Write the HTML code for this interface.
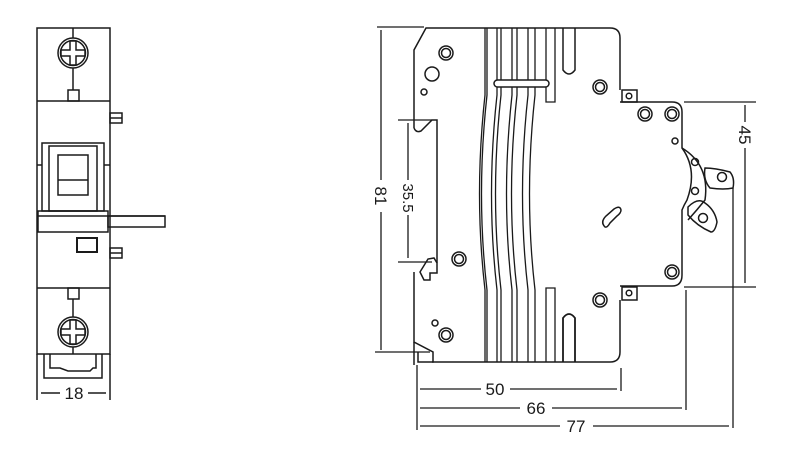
<!DOCTYPE html>
<html><head><meta charset="utf-8"><style>html,body{margin:0;padding:0;background:#fff}svg{display:block}</style></head>
<body>
<svg width="800" height="468" viewBox="0 0 800 468" xmlns="http://www.w3.org/2000/svg" fill="none" stroke="#1a1a1a" stroke-width="1.5" font-family="Liberation Sans, sans-serif">
<!-- LEFT VIEW -->
<rect x="37" y="28" width="73" height="326"/>
<line x1="37" y1="101" x2="110" y2="101"/>
<line x1="37" y1="288" x2="110" y2="288"/>
<line x1="73" y1="28" x2="73" y2="38"/><line x1="73" y1="68" x2="73" y2="90"/>
<circle cx="73" cy="53" r="15"/><circle cx="73" cy="53" r="12.5"/>
<path d="M70,41h6v9h9v6h-9v9h-6v-9h-9v-6h9z"/>
<rect x="68" y="90" width="11" height="11"/>
<rect x="110" y="113" width="12" height="10"/><line x1="110" y1="118" x2="122" y2="118"/>
<rect x="110" y="248" width="12" height="10"/><line x1="110" y1="253" x2="122" y2="253"/>
<rect x="42" y="143" width="62" height="68"/>
<rect x="49" y="146" width="48" height="65"/>
<rect x="58" y="155" width="30" height="40"/>
<line x1="58" y1="180" x2="88" y2="180"/>
<line x1="37" y1="165" x2="42" y2="165"/><line x1="104" y1="165" x2="110" y2="165"/>
<rect x="38" y="211" width="70" height="21"/>
<line x1="38" y1="216" x2="165" y2="216"/>
<rect x="108" y="216" width="57" height="11"/>
<rect x="77" y="238" width="20" height="14" stroke-width="2"/>
<rect x="68" y="288" width="11" height="11"/>
<line x1="73" y1="299" x2="73" y2="317"/><line x1="73" y1="347" x2="73" y2="354"/>
<circle cx="73" cy="332" r="15"/><circle cx="73" cy="332" r="12.5"/>
<path d="M70,320h6v9h9v6h-9v9h-6v-9h-9v-6h9z"/>
<path d="M44,354v24h58v-24"/>
<path d="M50,354v14h10l8,3h22l3,-3h3v-14"/>
<line x1="37" y1="354" x2="37" y2="400"/><line x1="110" y1="354" x2="110" y2="400"/>
<line x1="41" y1="393" x2="60" y2="393"/><line x1="88" y1="393" x2="106" y2="393"/>
<text x="74" y="399" font-size="17" fill="#1a1a1a" stroke="none" text-anchor="middle">18</text>

<!-- RIGHT VIEW body -->
<path d="M414,128 V50 L426,28 H610 Q620,28 620,38 V90"/>
<rect x="622" y="90" width="15" height="12"/><circle cx="629" cy="96" r="2.8"/>
<path d="M620,102 H672 Q682,102 682,112 V148 Q698,170 687,200 Q684,205 682,210 V275 Q682,286 672,286 H620"/>
<rect x="622" y="287" width="15" height="13"/><circle cx="629" cy="293" r="2.8"/>
<path d="M620,300 V352 Q620,362 610,362 H432"/>
<path d="M414,128 Q416,133 421,131 L432,120 H437 V263"/>
<path d="M437,263 V273 H430 V280 L424,280 L420,272 L428,259 L434,258 Z"/>
<path d="M414,272 V342 L433,352 V362 H418 V352"/>
<line x1="414" y1="342" x2="414" y2="365"/>
<!-- stripes -->
<g stroke-width="1.3">
<path d="M485,28 V95 Q474,195 485,290 V362"/>
<path d="M487,28 V95 Q476,195 487,290 V362"/>
<path d="M497,28 V95 Q486,195 497,290 V362"/>
<path d="M501,28 V95 Q490,195 501,290 V362"/>
<path d="M512,28 V95 Q501,195 512,290 V362"/>
<path d="M517,28 V95 Q506,195 517,290 V362"/>
<path d="M528,28 V95 Q517,195 528,290 V362"/>
<path d="M535,28 V95 Q524,195 535,290 V362"/>
<path d="M546,28 V102 H555 V28"/>
<path d="M546,362 V288 H555 V362"/>
</g>
<path d="M563,28 V70 Q569,78 575,70 V28"/>
<path d="M563,362 V318 Q569,310 575,318 V362" stroke-width="1.8"/>
<rect x="494" y="80" width="55" height="7" rx="3.5" fill="#fff"/>
<!-- circles -->
<g>
<circle cx="446" cy="53" r="7"/><circle cx="446" cy="53" r="4.5"/>
<circle cx="459" cy="259" r="7"/><circle cx="459" cy="259" r="4.5"/>
<circle cx="446" cy="335" r="7"/><circle cx="446" cy="335" r="4.5"/>
<circle cx="600" cy="87" r="7"/><circle cx="600" cy="87" r="4.5"/>
<circle cx="600" cy="300" r="7"/><circle cx="600" cy="300" r="4.5"/>
<circle cx="645" cy="114" r="7"/><circle cx="645" cy="114" r="4.5"/>
<circle cx="672" cy="114" r="7"/><circle cx="672" cy="114" r="4.5"/>
<circle cx="672" cy="272" r="7"/><circle cx="672" cy="272" r="4.5"/>
<circle cx="432" cy="74" r="7"/>
<circle cx="424" cy="92" r="3"/><circle cx="435" cy="323" r="3"/><circle cx="675" cy="141" r="3"/>
<circle cx="695" cy="162" r="3.5"/><circle cx="695" cy="191" r="3.5"/>
</g>
<path d="M605,227 Q600,222 606,216 L614,209 Q620,205 621,210 Q621,213 617,216 L610,223 Q607,228 605,227 Z"/>
<path d="M682,148 Q710,165 705,200 Q697,210 688,220"/>
<path d="M705,168 Q715,168 730,172 Q735,178 733,188 Q724,190 710,188 Q703,180 705,168 Z"/>
<circle cx="722" cy="177" r="4.5"/>
<path d="M688,207 Q698,197 705,203 Q715,210 717,222 Q715,232 711,232 Q697,226 688,215 Z"/>
<circle cx="703" cy="218" r="4.5"/>
<!-- dimensions -->
<g stroke-width="1.3">
<line x1="377" y1="27" x2="424" y2="27"/><line x1="375" y1="352" x2="430" y2="352"/>
<line x1="381" y1="30" x2="381" y2="180"/><line x1="381" y1="212" x2="381" y2="350"/>
<line x1="398" y1="120" x2="432" y2="120"/><line x1="398" y1="262" x2="432" y2="262"/>
<line x1="408" y1="123" x2="408" y2="180"/><line x1="408" y1="215" x2="408" y2="258"/>
<line x1="684" y1="102" x2="756" y2="102"/><line x1="684" y1="287" x2="756" y2="287"/>
<line x1="745" y1="105" x2="745" y2="122"/><line x1="745" y1="148" x2="745" y2="283"/>
<line x1="733" y1="188" x2="733" y2="428"/>
<line x1="686" y1="290" x2="686" y2="410"/>
<line x1="621" y1="368" x2="621" y2="391"/>
<line x1="417" y1="365" x2="417" y2="430"/>
<line x1="420" y1="389" x2="481" y2="389"/><line x1="510" y1="389" x2="617" y2="389"/>
<line x1="420" y1="408" x2="520" y2="408"/><line x1="552" y1="408" x2="682" y2="408"/>
<line x1="420" y1="426" x2="560" y2="426"/><line x1="593" y1="426" x2="729" y2="426"/>
</g>
<text transform="translate(375,196) rotate(90)" font-size="17" fill="#1a1a1a" stroke="none" text-anchor="middle">81</text>
<text transform="translate(403,198) rotate(90)" font-size="15" fill="#1a1a1a" stroke="none" text-anchor="middle">35.5</text>
<text transform="translate(739,135) rotate(90)" font-size="17" fill="#1a1a1a" stroke="none" text-anchor="middle">45</text>
<text x="495" y="395" font-size="17" fill="#1a1a1a" stroke="none" text-anchor="middle">50</text>
<text x="536" y="414" font-size="17" fill="#1a1a1a" stroke="none" text-anchor="middle">66</text>
<text x="576" y="432" font-size="17" fill="#1a1a1a" stroke="none" text-anchor="middle">77</text>
</svg>
</body></html>
